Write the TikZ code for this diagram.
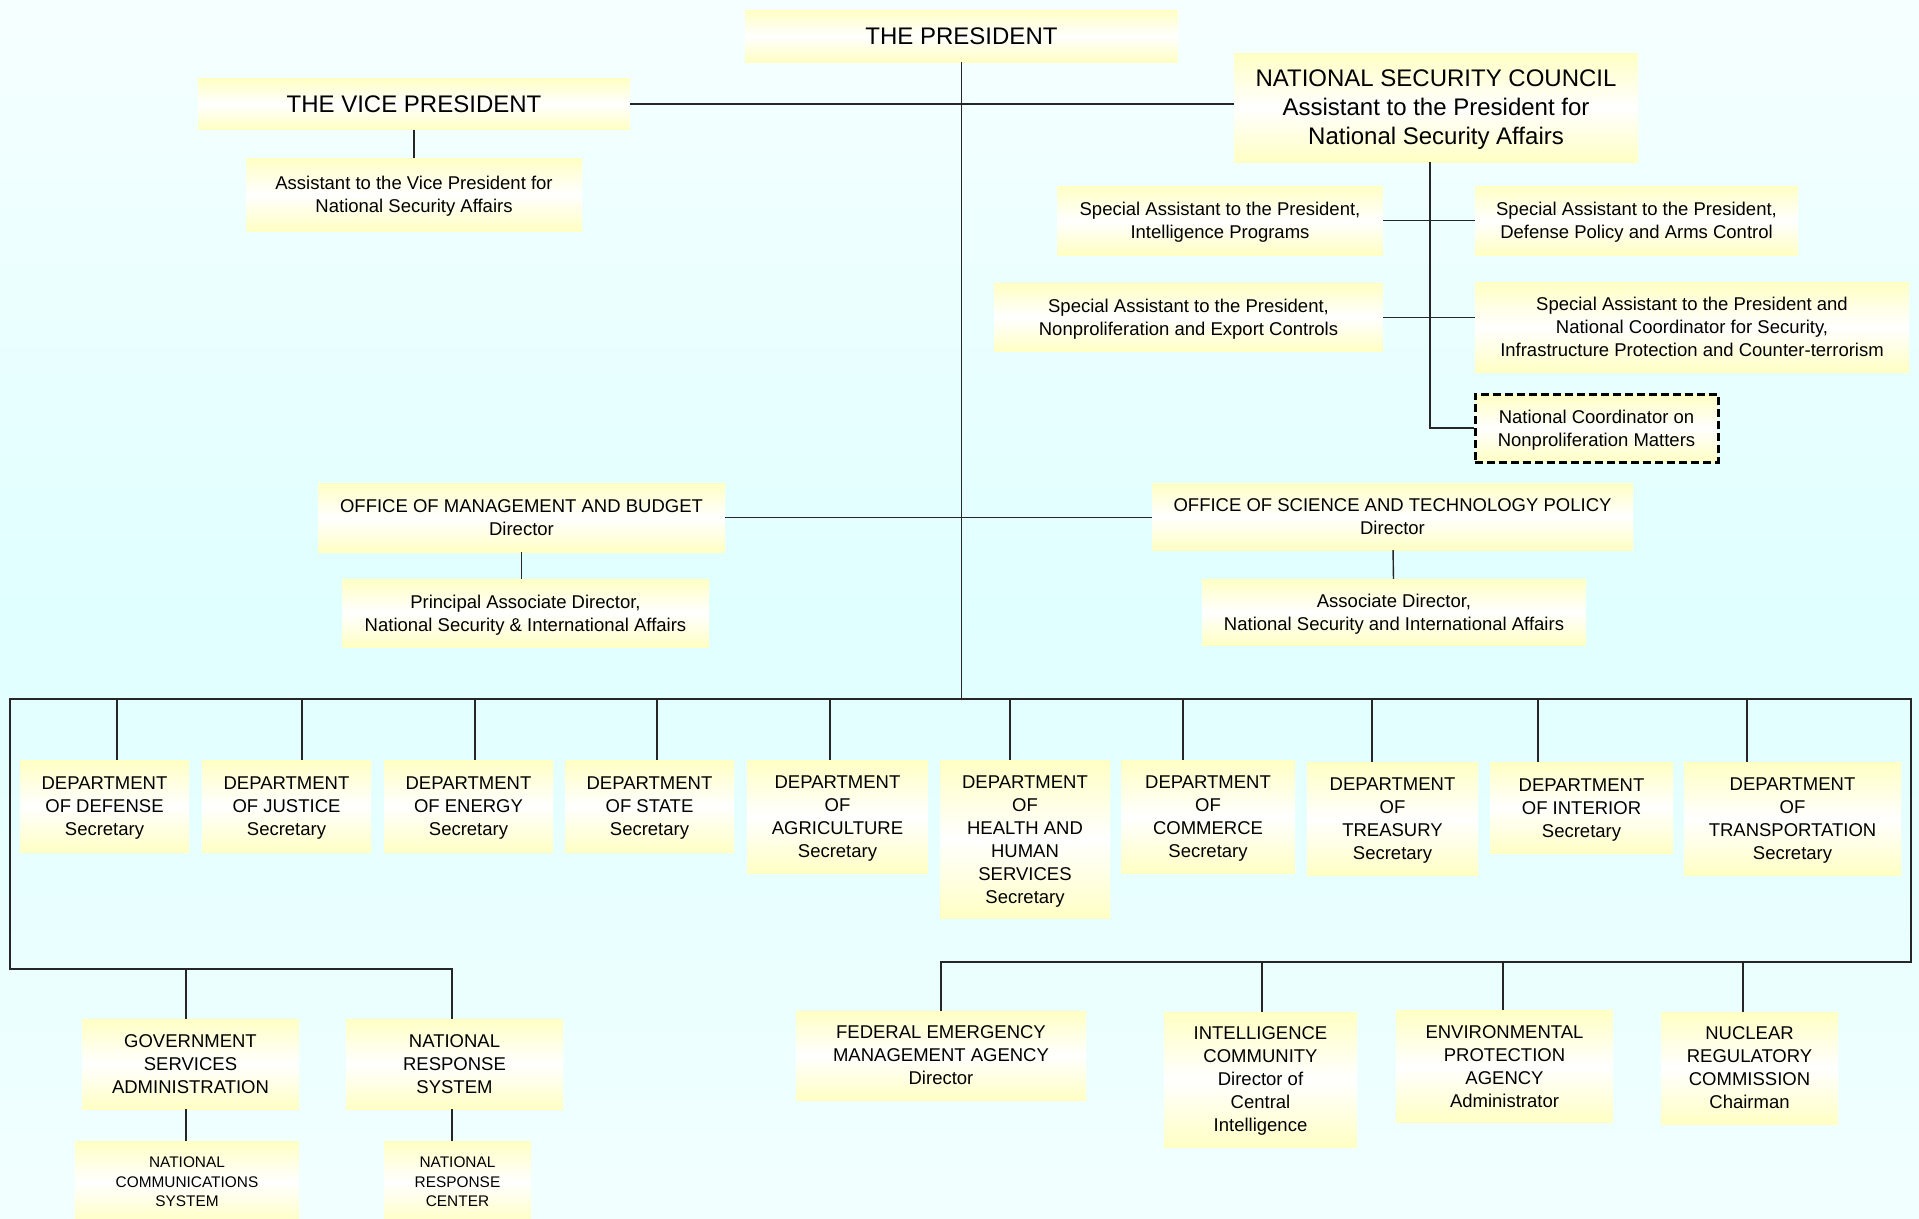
\documentclass[tikz,border=0pt]{standalone}
\usepackage{fontspec}
\setmainfont{Liberation Sans}
\definecolor{paleyel}{HTML}{FFFFC4}
\definecolor{skytop}{HTML}{F6FFFF}
\definecolor{skymid}{HTML}{E0FFFF}
\definecolor{skybot}{HTML}{F2FFFF}
\tikzset{
  office/.style={inner sep=0pt, align=center, text depth=0pt, top color=paleyel, bottom color=paleyel, middle color=white,
    font=\fontsize{18.5}{23}\selectfont},
  bigoffice/.style={office, font=\fontsize{24}{29}\selectfont},
  smalloffice/.style={office, font=\fontsize{15.4}{19.5}\selectfont},
  dashbox/.style={draw=black, line width=3pt, dash pattern=on 8pt off 4pt},
  wire/.style={line width=1.4pt, draw=black!85}
}
\newcommand{\dept}[5]{
\node[office, minimum width=#3, minimum height=#4, anchor=north] (#1) at (#2) {#5};}

\begin{document}
\begin{tikzpicture}[x=1pt,y=-1pt]
\useasboundingbox (0,0) rectangle (1919,1218);
\shade[top color=skytop, bottom color=skybot, middle color=skymid] (0,0) rectangle (1919,1218);

\node[bigoffice, minimum width=433, minimum height=52] (pres) at (961.5,36) {THE PRESIDENT};
\node[bigoffice, minimum width=432, minimum height=51] (vp) at (414,104) {THE VICE PRESIDENT};
\node[office, minimum width=336, minimum height=73] (vpa) at (414,194.5) {Assistant to the Vice President for\\National Security Affairs};
\node[bigoffice, minimum width=404, minimum height=109] (nsc) at (1436,107.5) {NATIONAL SECURITY COUNCIL\\Assistant to the President for\\National Security Affairs};

\node[office, minimum width=326, minimum height=69] (saintel) at (1220,220.5) {Special Assistant to the President,\\Intelligence Programs};
\node[office, minimum width=323, minimum height=69] (sadef) at (1636.5,220.5) {Special Assistant to the President,\\Defense Policy and Arms Control};
\node[office, minimum width=389, minimum height=68] (saexp) at (1188.5,317.5) {Special Assistant to the President,\\Nonproliferation and Export Controls};
\node[office, minimum width=434, minimum height=90] (sacoord) at (1692,327) {Special Assistant to the President and\\National Coordinator for Security,\\Infrastructure Protection and Counter-terrorism};
\node[office, dashbox, minimum width=243, minimum height=68] (ncnp) at (1596.5,428) {National Coordinator on\\Nonproliferation Matters};

\node[office, minimum width=407, minimum height=69] (omb) at (521.5,517.5) {OFFICE OF MANAGEMENT AND BUDGET\\Director};
\node[office, minimum width=367, minimum height=68] (ombpad) at (525.5,613) {Principal Associate Director,\\National Security \& International Affairs};
\node[office, minimum width=481, minimum height=67] (ostp) at (1392.5,516.5) {OFFICE OF SCIENCE AND TECHNOLOGY POLICY\\Director};
\node[office, minimum width=384, minimum height=66] (ostpad) at (1394,612) {Associate Director,\\National Security and International Affairs};

\dept{dod}{104.5,760}{169}{92}{DEPARTMENT\\OF DEFENSE\\Secretary}
\dept{doj}{286.5,760}{169}{92}{DEPARTMENT\\OF JUSTICE\\Secretary}
\dept{doe}{468.5,760}{169}{92}{DEPARTMENT\\OF ENERGY\\Secretary}
\dept{dos}{649.5,760}{169}{92}{DEPARTMENT\\OF STATE\\Secretary}
\dept{usda}{837.5,760}{181}{113}{DEPARTMENT\\OF\\AGRICULTURE\\Secretary}
\dept{hhs}{1025,760}{170}{158}{DEPARTMENT\\OF\\HEALTH AND\\HUMAN\\SERVICES\\Secretary}
\dept{doc}{1208,760}{174}{113}{DEPARTMENT\\OF\\COMMERCE\\Secretary}
\dept{treas}{1392.5,762}{171}{113}{DEPARTMENT\\OF\\TREASURY\\Secretary}
\dept{doi}{1581.5,762}{183}{91}{DEPARTMENT\\OF INTERIOR\\Secretary}
\dept{dot}{1792.5,762}{217}{113}{DEPARTMENT\\OF\\TRANSPORTATION\\Secretary}

\node[office, minimum width=217, minimum height=90] (gsa) at (190.5,1064) {GOVERNMENT\\SERVICES\\ADMINISTRATION};
\node[office, minimum width=217, minimum height=90] (nrs) at (454.5,1064) {NATIONAL\\RESPONSE\\SYSTEM};
\node[smalloffice, minimum width=224, minimum height=82] (ncs) at (187,1182) {NATIONAL\\COMMUNICATIONS\\SYSTEM};
\node[smalloffice, minimum width=147, minimum height=82] (nrc) at (457.5,1182) {NATIONAL\\RESPONSE\\CENTER};

\node[office, minimum width=290, minimum height=89] (fema) at (941,1055.5) {FEDERAL EMERGENCY\\MANAGEMENT AGENCY\\Director};
\node[office, minimum width=193, minimum height=135] (ic) at (1260.5,1079.5) {INTELLIGENCE\\COMMUNITY\\Director of\\Central\\Intelligence};
\node[office, minimum width=216, minimum height=112] (epa) at (1504.5,1066.5) {ENVIRONMENTAL\\PROTECTION\\AGENCY\\Administrator};
\node[office, minimum width=177, minimum height=112] (nuc) at (1749.5,1068) {NUCLEAR\\REGULATORY\\COMMISSION\\Chairman};

\coordinate (busL) at (10,699);
\coordinate (busR) at (1911,699);
\coordinate (lowL) at (10,969);
\coordinate (lowLend) at (453,969);
\coordinate (lowR) at (1911,962);
\coordinate (lowRend) at (940,962);
\coordinate (nscdrop) at (1430,162);

\draw[wire] (vp.east) -- (vp.east -| nsc.west);
\draw[wire] (pres.south) -- (pres.south |- busL);
\draw[wire] (vp) -- (vpa);
\draw[wire] (nscdrop) |- (ncnp.west);
\draw[wire] (saintel) -- (sadef);
\draw[wire] (saexp.east) -- (saexp.east -| sacoord.west);
\draw[wire] (omb.east) -- (omb.east -| ostp.west);
\draw[wire] (omb.south) -- (omb.south |- ombpad.north);
\draw[wire] (ostp) -- (ostpad);

\draw[wire] (lowLend) -- (lowL) -- (busL) -- (busR) -- (lowR) -- (lowRend);
\foreach \n/\x in {dod/117,doj/302,doe/475,dos/657,usda/830,hhs/1010,doc/1183,treas/1372,doi/1538,dot/1747}{
  \draw[wire] (\x,0 |- busL) -- (\n.north -| \x,0);
}
\foreach \n/\x in {gsa/186,nrs/452}{
  \draw[wire] (\x,0 |- lowL) -- (\n.north -| \x,0);
}
\foreach \n/\x in {fema/941,ic/1262,epa/1503,nuc/1743}{
  \draw[wire] (\x,0 |- lowR) -- (\n.north -| \x,0);
}
\draw[wire] (gsa.south -| 186,0) -- (ncs.north -| 186,0);
\draw[wire] (nrs.south -| 452,0) -- (nrc.north -| 452,0);

\end{tikzpicture}
\end{document}
